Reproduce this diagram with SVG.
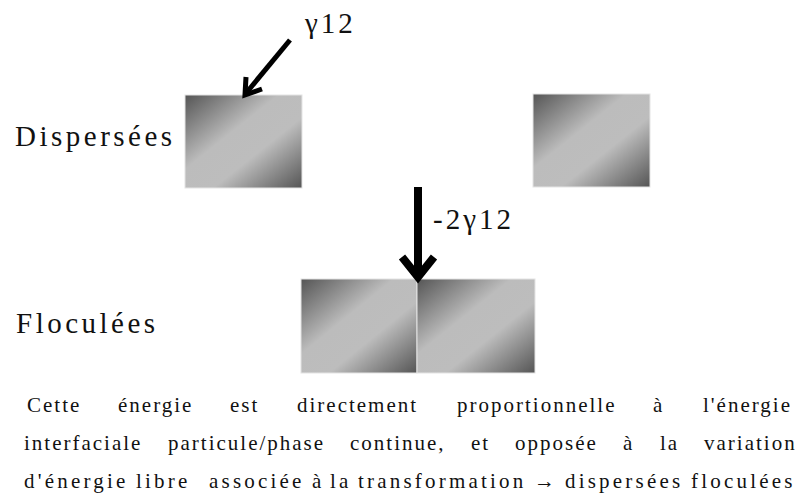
<svg xmlns="http://www.w3.org/2000/svg" width="804" height="495" viewBox="0 0 804 495">
<defs>
<linearGradient id="shade" x1="0" y1="0" x2="1" y2="1">
<stop offset="0" stop-color="#555555"/>
<stop offset="0.4" stop-color="#bcbcbc"/>
<stop offset="0.62" stop-color="#bdbdbd"/>
<stop offset="1" stop-color="#555555"/>
</linearGradient>
</defs>
<rect width="804" height="495" fill="#fff"/>

<g id="label-dispersees"><text font-family="Liberation Serif" font-size="29" letter-spacing="3.5" fill="#111" x="15" y="146">Dispersées</text></g>
<g id="label-floculees"><text font-family="Liberation Serif" font-size="29" letter-spacing="3.5" fill="#111" x="16" y="333">Floculées</text></g>

<g id="particle-1"><rect fill="url(#shade)" stroke="#e4e4e4" x="185" y="95" width="117" height="93"/></g>
<g id="particle-2"><rect fill="url(#shade)" stroke="#e4e4e4" x="533" y="94" width="117" height="93"/></g>
<g id="particle-3a"><rect fill="url(#shade)" stroke="#e4e4e4" x="301" y="279" width="116" height="94"/></g>
<g id="particle-3b"><rect fill="url(#shade)" stroke="#e4e4e4" x="417" y="279" width="118" height="94"/></g>

<g id="connectors" fill="none" stroke="#000" stroke-linejoin="miter">
<path stroke-width="5" d="M290,40 L247,92"/>
<path stroke-width="5" d="M246,77 L245,95 L262,89"/>
<path stroke-width="8" d="M418,187 L418,274"/>
<path stroke-width="8" d="M402,257 L418,277 L434,257"/>
</g>

<g id="label-gamma"><text font-family="Liberation Serif" font-size="29" letter-spacing="3" fill="#111" x="305" y="33">γ12</text></g>
<g id="label-minus2gamma"><text font-family="Liberation Serif" font-size="29" letter-spacing="3" fill="#111" x="433" y="229">-2γ12</text></g>

<g id="caption">
<text font-family="Liberation Serif" font-size="21" letter-spacing="2" fill="#111" y="412"><tspan x="27">Cette</tspan><tspan x="118">énergie</tspan><tspan x="230">est</tspan><tspan x="297">directement</tspan><tspan x="457">proportionnelle</tspan><tspan x="653">à</tspan><tspan x="703">l'énergie</tspan></text>
<text font-family="Liberation Serif" font-size="21" letter-spacing="2" fill="#111" y="450"><tspan x="24">interfaciale</tspan><tspan x="168">particule/phase</tspan><tspan x="350">continue,</tspan><tspan x="471">et</tspan><tspan x="515">opposée</tspan><tspan x="623">à</tspan><tspan x="660">la</tspan><tspan x="704">variation</tspan></text>
<text font-family="Liberation Serif" font-size="21" letter-spacing="3.2" fill="#111" y="488"><tspan x="24">d'énergie</tspan><tspan x="136">libre</tspan><tspan x="209">associée</tspan><tspan x="312">à</tspan><tspan x="330">la</tspan><tspan x="358">transformation</tspan><tspan x="534">→</tspan><tspan x="565">dispersées</tspan><tspan x="691">floculées</tspan></text>
</g>
</svg>
